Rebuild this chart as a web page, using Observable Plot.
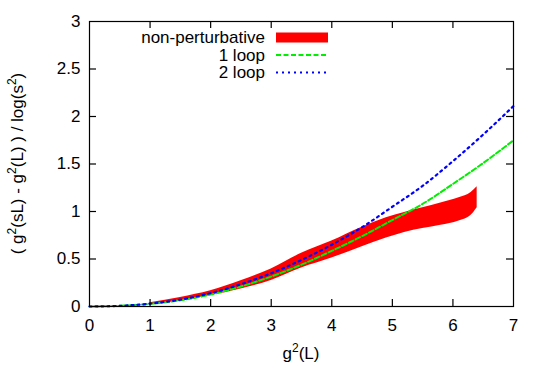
<!DOCTYPE html>
<html><head><meta charset="utf-8">
<script src="https://cdn.jsdelivr.net/npm/d3@7"></script>
<script src="https://cdn.jsdelivr.net/npm/@observablehq/plot@0.6"></script>
<style>
body{margin:0;background:#fff;}
#chart{width:545px;height:381px;}
svg{font-family:"Liberation Sans",Arial,Helvetica,sans-serif;}
</style></head><body><div id="chart"></div>
<script>
// perturbative curves
const curveX  = [0, 0.5, 1, 1.5, 2, 2.5, 3, 3.5, 4, 4.5, 5, 5.5, 6, 6.5, 7];
const oneLoop = [0, 0.007, 0.028, 0.065, 0.125, 0.21, 0.315, 0.44, 0.585, 0.74, 0.91, 1.08, 1.29, 1.51, 1.75];
const twoLoop = [0, 0.007, 0.03, 0.072, 0.14, 0.235, 0.35, 0.49, 0.65, 0.835, 1.05, 1.27, 1.53, 1.81, 2.11];
// non-perturbative band
const bandX      = [1.0, 1.5, 2.0, 2.5, 3.0, 3.5, 4.0, 4.5, 4.9, 5.2, 5.5, 5.8, 6.1, 6.3, 6.4];
const bandTop    = [0.04, 0.095, 0.165, 0.27, 0.395, 0.56, 0.69, 0.835, 0.935, 0.99, 1.04, 1.09, 1.145, 1.2, 1.26];
const bandBottom = [0.02, 0.06, 0.115, 0.185, 0.275, 0.405, 0.51, 0.63, 0.72, 0.78, 0.82, 0.855, 0.9, 0.96, 1.04];
// axes
const xTicks = [0, 1, 2, 3, 4, 5, 6, 7];
const yTicks = [0, 0.5, 1, 1.5, 2, 2.5, 3];
const seriesNames  = ["non-perturbative", "1 loop", "2 loop"];
const seriesColors = ["#ff0000", "#00ee00", "#0000ff"];

const band = bandX.map((x, i) => ({x, lo: bandBottom[i], hi: bandTop[i]}));
const curves = curveX.map((x, i) => ({x, one: oneLoop[i], two: twoLoop[i]}));

const W = 545, H = 381, mL = 89, mR = 32, mT = 21, mB = 75, TK = 7;
const FW = W - mL - mR, FH = H - mT - mB;
const xDom = [0, 7], yDom = [0, 3];
const tkX = TK * (xDom[1] - xDom[0]) / FW;   // tick length in x data units
const tkY = TK * (yDom[1] - yDom[0]) / FH;   // tick length in y data units
const inner = xTicks.slice(1, -1), innerY = yTicks.slice(1, -1);

const plot = Plot.plot({
  width: W, height: H,
  marginLeft: mL, marginRight: mR, marginTop: mT, marginBottom: mB,
  style: {fontFamily: '"Liberation Sans",Arial,sans-serif', fontSize: "17px", color: "#000", background: "#fff", overflow: "visible"},
  x: {domain: xDom},
  y: {domain: yDom},
  marks: [
    Plot.areaY(band, {x: "x", y1: "lo", y2: "hi", fill: seriesColors[0], curve: "monotone-x"}),
    Plot.line(curves, {x: "x", y: "one", stroke: seriesColors[1], strokeWidth: 2, strokeDasharray: "5,2.5", curve: "monotone-x"}),
    Plot.line(curves, {x: "x", y: "two", stroke: seriesColors[2], strokeWidth: 2.2, strokeDasharray: "2,4", curve: "monotone-x"}),
    Plot.axisX(xTicks, {anchor: "bottom", tickSize: 0, tickPadding: 12, label: null, tickFormat: d => String(d)}),
    Plot.axisY(yTicks, {anchor: "left", tickSize: 0, tickPadding: 9, label: null, tickFormat: d => String(d)}),
    Plot.ruleX(inner, {x: d => d, y1: yDom[0], y2: yDom[0] + tkY, stroke: "#000", strokeWidth: 1.2}),
    Plot.ruleX(inner, {x: d => d, y1: yDom[1] - tkY, y2: yDom[1], stroke: "#000", strokeWidth: 1.2}),
    Plot.ruleY(innerY, {y: d => d, x1: xDom[0], x2: xDom[0] + tkX, stroke: "#000", strokeWidth: 1.2}),
    Plot.ruleY(innerY, {y: d => d, x1: xDom[1] - tkX, x2: xDom[1], stroke: "#000", strokeWidth: 1.2}),
    Plot.frame({stroke: "#000", strokeWidth: 1.2})
  ]
});
document.getElementById("chart").appendChild(plot);

const svg = d3.select(plot);
function addSup(t, parts) {
  let prevSup = false;
  parts.forEach(([s, sup]) => {
    if (sup) t.append("tspan").attr("dy", -7).attr("font-size", 12).text(s);
    else t.append("tspan").attr("dy", prevSup ? 7 : 0).text(s);
    prevSup = sup;
  });
}
// x label
const xl = svg.append("text").attr("x", mL + FW / 2).attr("y", 359)
  .attr("text-anchor", "middle").attr("font-size", 17).attr("fill", "#000");
addSup(xl, [["g", false], ["2", true], ["(L)", false]]);
// y label
const yl = svg.append("text").attr("transform", `translate(23,${mT + FH / 2}) rotate(-90)`)
  .attr("text-anchor", "middle").attr("font-size", 17).attr("fill", "#000");
addSup(yl, [["( g", false], ["2", true], ["(sL) - g", false], ["2", true], ["(L) ) / log(s", false], ["2", true], [")", false]]);

// legend
const lg = svg.append("g").attr("font-size", 17);
const rowY = [37.5, 55, 72.5];
seriesNames.forEach((name, i) => {
  lg.append("text").attr("x", 265).attr("y", rowY[i]).attr("dy", "0.35em").attr("text-anchor", "end").attr("fill", "#000").text(name);
});
lg.append("rect").attr("x", 276).attr("y", rowY[0] - 5).attr("width", 52).attr("height", 10).attr("fill", seriesColors[0]);
lg.append("line").attr("x1", 276).attr("x2", 328).attr("y1", rowY[1]).attr("y2", rowY[1])
  .attr("stroke", seriesColors[1]).attr("stroke-width", 2).attr("stroke-dasharray", "5,2.5");
lg.append("line").attr("x1", 276).attr("x2", 328).attr("y1", rowY[2]).attr("y2", rowY[2])
  .attr("stroke", seriesColors[2]).attr("stroke-width", 2.2).attr("stroke-dasharray", "2,4");
</script></body></html>
